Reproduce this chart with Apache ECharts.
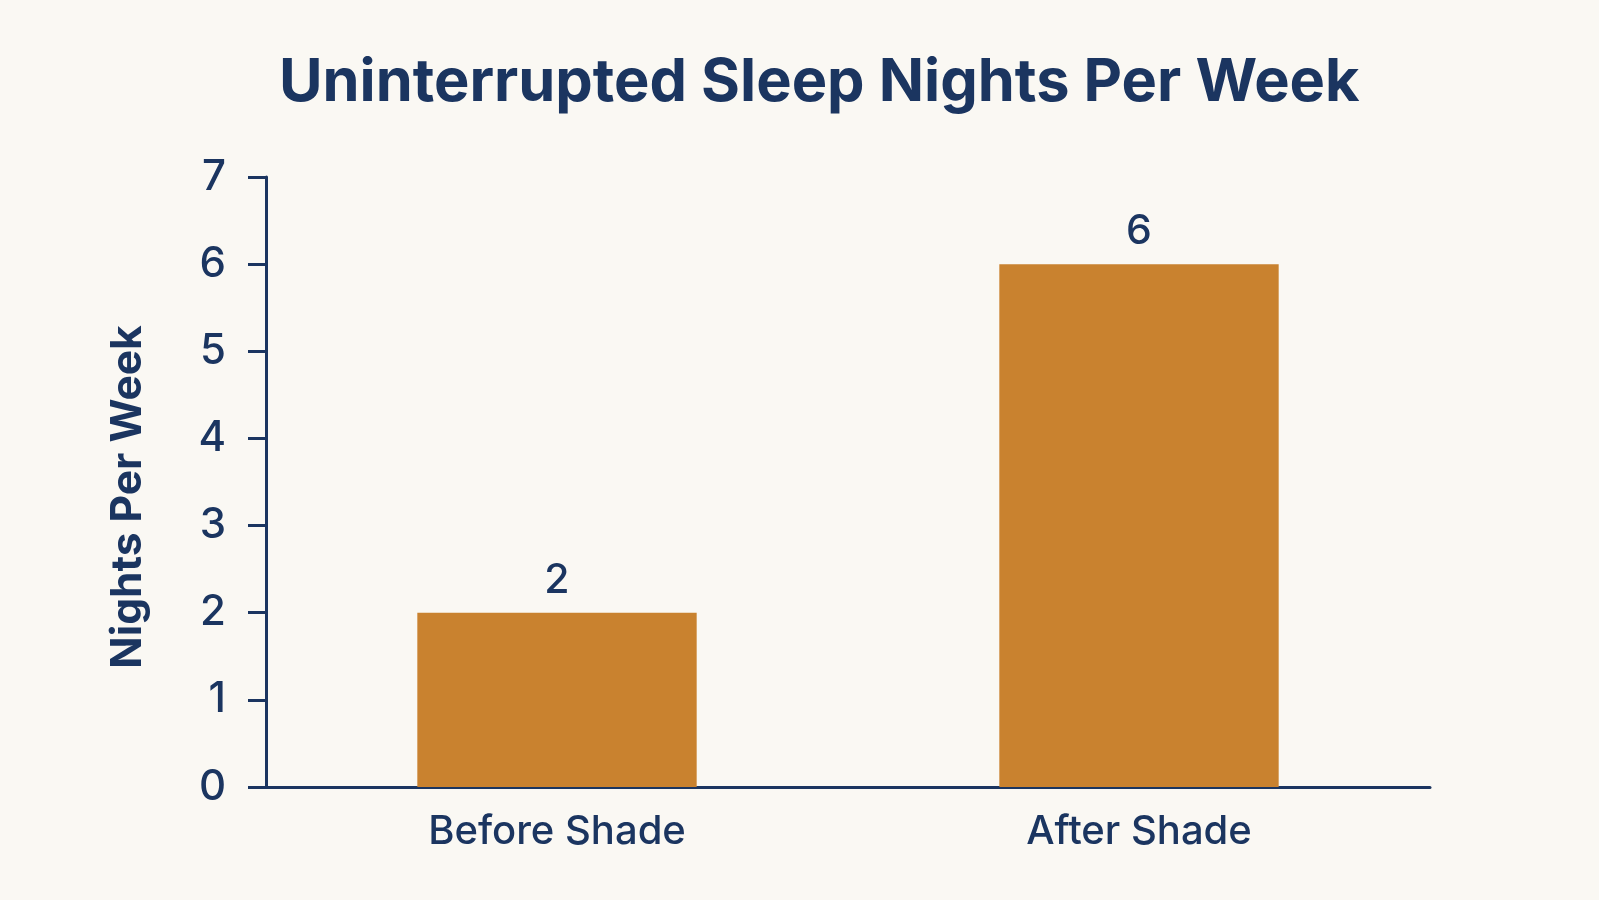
<!DOCTYPE html>
<html>
<head>
<meta charset="utf-8">
<title>Uninterrupted Sleep Nights Per Week</title>
<script src="https://cdn.jsdelivr.net/npm/echarts@6/dist/echarts.min.js"></script>
<style>
  html, body { margin: 0; padding: 0; background: #faf8f3; }
  #container { width: 1599px; height: 900px; }
</style>
</head>
<body>
<div id="container"></div>
<script>
var categories = ['Before Shade', 'After Shade'];
var nights = [2, 6];
var yTicks = [0, 1, 2, 3, 4, 5, 6, 7];

var navy = '#1b3560';
var barColor = '#c9822f';

var dom = document.getElementById("container");
var myChart = echarts.init(dom);
var option = {
    backgroundColor: '#faf8f3',
    textStyle: { fontFamily: 'Inter' },
    title: {
        text: 'Uninterrupted Sleep Nights Per Week',
        left: 274,
        top: 48,
        textStyle: { color: navy, fontSize: 59.5, fontWeight: 'bold', fontFamily: 'Inter' }
    },
    grid: { left: 266, right: 169, top: 177, bottom: 113 },
    xAxis: {
        type: 'category',
        data: categories,
        axisLine: { lineStyle: { color: navy, width: 3 } },
        axisTick: { show: false },
        axisLabel: { color: navy, fontSize: 40, fontWeight: 500, margin: 25 }
    },
    yAxis: {
        type: 'value',
        min: yTicks[0],
        max: yTicks[yTicks.length - 1],
        interval: 1,
        name: 'Nights Per Week',
        nameLocation: 'middle',
        nameGap: 116,
        nameTextStyle: { color: navy, fontSize: 42.5, fontWeight: 'bold', padding: [0, 30, 0, 0] },
        axisLine: { show: true, lineStyle: { color: navy, width: 3 } },
        axisTick: { show: true, length: 18, lineStyle: { color: navy, width: 3 } },
        axisLabel: { color: navy, fontSize: 42, fontWeight: 500, margin: 40 },
        splitLine: { show: false }
    },
    series: [{
        type: 'bar',
        data: nights,
        barWidth: '48%',
        itemStyle: { color: barColor },
        label: {
            show: true,
            position: 'top',
            distance: 12,
            color: navy,
            fontSize: 41,
            fontWeight: 500
        }
    }]
};
myChart.setOption(option, true);
</script>
</body>
</html>
